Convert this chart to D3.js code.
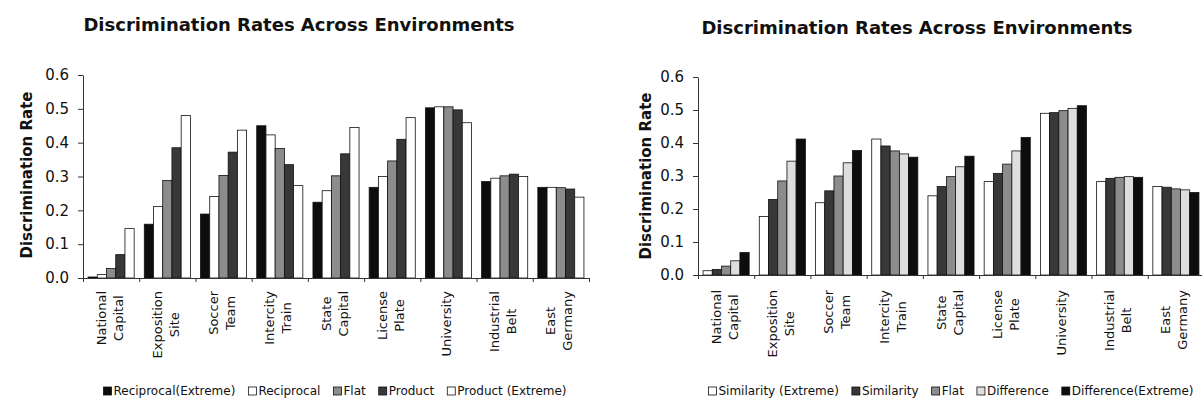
<!DOCTYPE html>
<html>
<head>
<meta charset="utf-8">
<script src="https://cdnjs.cloudflare.com/ajax/libs/d3/7.8.5/d3.min.js"></script>
<style>
  body { margin: 0; background: #fff; }
  text { font-family: "DejaVu Sans", sans-serif; fill: #111; }
</style>
</head>
<body>
<div id="chart"></div>
<script>
const categoryLines = [
    ["National", "Capital"], ["Exposition", "Site"], ["Soccer", "Team"],
    ["Intercity", "Train"], ["State", "Capital"], ["License", "Plate"],
    ["University"], ["Industrial", "Belt"], ["East", "Germany"]
];
const categories = categoryLines.map(d => d.join(" "));
const yTicks = [0, 0.1, 0.2, 0.3, 0.4, 0.5, 0.6];

// left chart series
const leftNames = ["Reciprocal(Extreme)", "Reciprocal", "Flat", "Product", "Product (Extreme)"];
const reciprocalExtreme = [0.003, 0.159, 0.189, 0.450, 0.224, 0.268, 0.503, 0.285, 0.268];
const reciprocal        = [0.010, 0.211, 0.241, 0.423, 0.258, 0.300, 0.506, 0.295, 0.268];
const flatLeft          = [0.028, 0.288, 0.303, 0.383, 0.302, 0.346, 0.506, 0.302, 0.267];
const product           = [0.069, 0.385, 0.372, 0.335, 0.367, 0.410, 0.497, 0.307, 0.263];
const productExtreme    = [0.146, 0.480, 0.437, 0.273, 0.445, 0.474, 0.459, 0.300, 0.239];

// right chart series
const rightNames = ["Similarity (Extreme)", "Similarity", "Flat", "Difference", "Difference(Extreme)"];
const similarityExtreme = [0.013, 0.177, 0.219, 0.412, 0.240, 0.283, 0.490, 0.283, 0.268];
const similarity        = [0.017, 0.229, 0.255, 0.391, 0.268, 0.308, 0.492, 0.293, 0.266];
const flatRight         = [0.027, 0.285, 0.300, 0.376, 0.298, 0.336, 0.498, 0.296, 0.261];
const difference        = [0.043, 0.345, 0.340, 0.367, 0.328, 0.376, 0.505, 0.298, 0.258];
const differenceExtreme = [0.068, 0.412, 0.377, 0.357, 0.360, 0.417, 0.513, 0.296, 0.250];

const width = 1202, height = 406;

const svg = d3.select("#chart")
    .append("svg")
    .attr("width", width)
    .attr("height", height);

function drawPanel(p) {
    const n = categories.length;
    const x0 = d3.scaleBand()
        .domain(categories)
        .range(p.xRange)
        .paddingInner(0.18)
        .paddingOuter(0.09);
    const x1 = d3.scaleBand()
        .domain(d3.range(p.series.length))
        .range([0, x0.bandwidth()]);
    const y = d3.scaleLinear()
        .domain([0, 0.6])
        .range(p.yRange);
    const edges = d3.scaleLinear().domain([0, n]).range(p.xRange);

    const g = svg.append("g");

    // title
    g.append("text")
        .attr("x", p.titleX)
        .attr("y", p.titleY)
        .attr("text-anchor", "middle")
        .style("font-size", "18px")
        .style("font-weight", "bold")
        .text("Discrimination Rates Across Environments");

    // bars
    p.series.forEach(function(vals, s) {
        g.selectAll(null)
            .data(vals)
            .join("rect")
            .attr("x", (d, i) => x0(categories[i]) + x1(s))
            .attr("y", d => y(d))
            .attr("width", x1.bandwidth())
            .attr("height", d => y(0) - y(d))
            .attr("fill", p.colors[s])
            .attr("stroke", "#111")
            .style("stroke-width", "0.8px");
    });

    // y axis
    const yAxis = g.append("g")
        .attr("transform", `translate(${p.xRange[0]},0)`)
        .call(d3.axisLeft(y).tickValues(yTicks).tickFormat(d3.format(".1f"))
            .tickSize(5).tickSizeOuter(0).tickPadding(9));
    yAxis.selectAll("text").style("font-size", "15px").attr("fill", "#222");
    yAxis.selectAll("path, line").attr("stroke", "#333");

    // x axis with ticks at category boundaries
    const xAxis = g.append("g")
        .attr("transform", `translate(0,${p.yRange[0]})`)
        .call(d3.axisBottom(edges).tickValues(d3.range(n + 1)).tickFormat("")
            .tickSize(4).tickSizeOuter(0));
    xAxis.selectAll("path, line").attr("stroke", "#333");

    // category labels, rotated, top-aligned block with centered lines
    const lineH = 17;
    categoryLines.forEach(function(lines, i) {
        const cx = x0(categories[i]) + x0.bandwidth() / 2;
        const lg = g.append("g")
            .attr("transform", `translate(${cx},${p.labelTop}) rotate(-90)`);
        const t = lg.selectAll(null)
            .data(lines)
            .join("text")
            .attr("text-anchor", "middle")
            .attr("y", (d, j) => (j - (lines.length - 1) / 2) * lineH + 3)
            .style("font-size", "13px")
            .text(d => d);
        const maxLen = d3.max(t.nodes(), nd => nd.getComputedTextLength());
        t.attr("x", -maxLen / 2);
    });

    // y axis title
    g.append("text")
        .attr("transform", `translate(${p.yLabelX},${p.yLabelY}) rotate(-90)`)
        .attr("text-anchor", "middle")
        .style("font-size", "15px")
        .style("font-weight", "bold")
        .text("Discrimination Rate");

    // legend, centered under the plot
    const size = 8, gapText = 2, gapItem = 13;
    const leg = g.append("g");
    let cur = 0;
    p.names.forEach(function(name, s) {
        const item = leg.append("g").attr("transform", `translate(${cur},0)`);
        item.append("rect")
            .attr("x", 0).attr("y", -size)
            .attr("width", size).attr("height", size)
            .attr("fill", p.colors[s])
            .attr("stroke", "#111")
            .style("stroke-width", "0.8px");
        const tx = item.append("text")
            .attr("x", size + gapText)
            .attr("y", 0)
            .style("font-size", "12px")
            .text(name);
        cur += size + gapText + tx.node().getComputedTextLength() + gapItem;
    });
    const legW = cur - gapItem;
    leg.attr("transform", `translate(${p.legendCenter - legW / 2},${p.legendY})`);
}

drawPanel({
    xRange: [83, 589],
    yRange: [278, 75],
    series: [reciprocalExtreme, reciprocal, flatLeft, product, productExtreme],
    names: leftNames,
    colors: ["#0d0d0d", "#ffffff", "#8c8c8c", "#383838", "#ffffff"],
    titleX: 299, titleY: 31,
    yLabelX: 32, yLabelY: 175,
    labelTop: 291,
    legendCenter: 335, legendY: 395
});

drawPanel({
    xRange: [698, 1204],
    yRange: [275, 77],
    series: [similarityExtreme, similarity, flatRight, difference, differenceExtreme],
    names: rightNames,
    colors: ["#ffffff", "#383838", "#8c8c8c", "#dedede", "#0d0d0d"],
    titleX: 917, titleY: 34,
    yLabelX: 651, yLabelY: 176,
    labelTop: 290,
    legendCenter: 951, legendY: 395
});
</script>
</body>
</html>
